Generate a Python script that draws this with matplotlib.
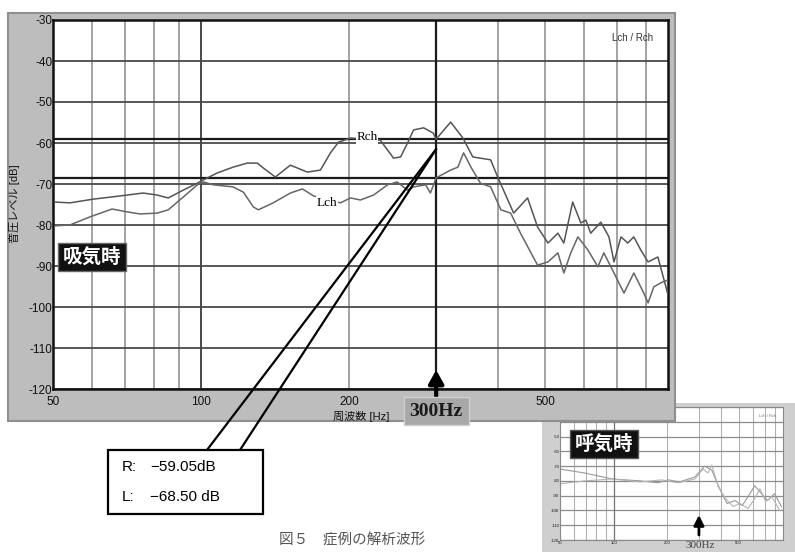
import matplotlib
matplotlib.use('Agg')
import matplotlib.pyplot as plt
from matplotlib.patches import Rectangle
from matplotlib.ticker import FixedLocator, LogLocator, NullFormatter

plt.rcParams['font.family'] = ['Liberation Sans', 'Noto Sans CJK JP', 'DejaVu Sans']

# inhalation spectrum (吸気時), right channel
r_freq = [50.5, 54.1, 60.3, 67.5, 76.2, 81.4, 85.7, 91.9, 98.2, 101, 107.8, 116, 124, 130,
          133.7, 141.4, 151.7, 164.3, 174.6, 183, 190, 201, 231, 245.8, 254, 262.4, 270,
          283, 296, 300, 321, 340, 356, 387, 400, 431, 460, 482, 506, 530, 545, 568, 590,
          604, 618, 648, 673, 689, 712, 735, 756, 781, 808, 846, 887]
r_db = [-74.4, -74.6, -73.7, -73.0, -72.2, -72.7, -73.4, -71.5, -69.8, -69.0, -67.3, -65.9,
        -64.9, -64.9, -66.1, -68.3, -65.4, -67.1, -66.6, -62.4, -59.8, -58.8, -59.3, -63.7,
        -63.4, -60.0, -56.8, -56.3, -57.6, -59.05, -54.9, -58.8, -63.4, -64.1, -68.3, -77.1,
        -73.4, -80.5, -84.4, -82.0, -84.4, -74.4, -79.5, -78.8, -82.0, -79.3, -82.9, -89.0,
        -82.9, -84.4, -82.9, -86.1, -89.0, -87.8, -97.0]

# inhalation spectrum, left channel
l_freq = [50.5, 54.1, 59.5, 65.9, 70.7, 75.1, 81.4, 85.7, 91.9, 98.2, 101, 105.8, 116, 121.8,
          127.6, 130.6, 140, 151.7, 160.5, 169, 191.7, 201, 210.5, 223.8, 239, 250, 262.4,
          270, 285.6, 292, 300, 321, 332, 341, 353, 369, 387, 406, 425, 445, 482, 506, 530,
          545, 563, 582, 610, 639, 657, 689, 722, 756, 792, 808, 830, 858, 887]
l_db = [-80.2, -80.0, -78.0, -76.1, -76.8, -77.3, -77.1, -76.3, -73.2, -70.2, -69.5, -70.2,
        -70.7, -72.0, -75.6, -76.3, -74.6, -72.2, -71.2, -72.9, -74.6, -73.4, -73.9, -72.7,
        -70.2, -69.5, -71.5, -70.7, -70.2, -72.2, -68.5, -66.6, -65.9, -62.4, -65.9, -69.8,
        -70.7, -76.3, -77.1, -82.0, -89.8, -89.0, -86.8, -91.7, -86.8, -82.9, -86.1, -90.2,
        -86.8, -91.7, -96.6, -91.7, -96.6, -99.0, -95.1, -94.1, -93.4]

# exhalation spectrum (呼気時)
ex_r_freq = [50, 69, 98, 141, 177, 202, 234, 285, 323, 354, 381, 404, 431, 478, 524, 565,
             616, 673, 727, 795, 869]
ex_r_db = [-72, -74.7, -78.7, -80, -81.3, -79.3, -80.7, -77.3, -70, -72.7, -82, -88.7,
           -95.3, -93.3, -96.7, -90.7, -83.3, -88.7, -93.3, -88.7, -97.3]
ex_l_freq = [50, 69, 98, 141, 185, 229, 285, 316, 337, 354, 385, 423, 465, 511, 565, 616,
             658, 710, 768, 850]
ex_l_db = [-82, -80, -78.7, -80.7, -79.3, -81.3, -78.7, -72, -74.7, -69.3, -84, -92,
           -97.3, -95.3, -98.7, -92, -85.3, -94, -90.7, -100]

cursor_hz = 300
cursor_r = -59.05
cursor_l = -68.50
y_ticks = list(range(-120, -29, 10))
x_ticks = [50, 100, 200, 500]
x_range = (50, 887)

W, H = 795, 552


def frac(x0, y0, x1, y1):
    # pixel box (top-left origin) -> figure fraction rect
    return [x0 / W, 1 - y1 / H, (x1 - x0) / W, (y1 - y0) / H]


def add_box(x0, y0, x1, y1, **kw):
    r = frac(x0, y0, x1, y1)
    fig.patches.append(Rectangle((r[0], r[1]), r[2], r[3], transform=fig.transFigure, **kw))


def setup_axes(ax, fs, hcol, vcol, lw):
    ax.set_xscale('log')
    ax.set_xlim(*x_range)
    ax.set_ylim(-120, -30)
    ax.xaxis.set_major_locator(FixedLocator(x_ticks))
    ax.xaxis.set_minor_locator(LogLocator(base=10, subs=range(2, 10)))
    ax.xaxis.set_minor_formatter(NullFormatter())
    ax.set_xticklabels([str(v) for v in x_ticks])
    ax.set_yticks(y_ticks)
    ax.set_yticklabels([str(v) for v in y_ticks])
    ax.tick_params(which='both', length=0, labelsize=fs, colors='#111111')
    ax.grid(True, axis='y', which='major', color=hcol, lw=lw)
    ax.grid(True, axis='x', which='both', color=vcol, lw=lw * 0.85)
    ax.set_axisbelow(True)


fig = plt.figure(figsize=(W / 100, H / 100), dpi=100)

# small exhalation panel, partly under the main one
add_box(542, 403, 795, 552, facecolor='#cfcfcf', edgecolor='none', zorder=-3)
ax2 = fig.add_axes(frac(560, 407, 783, 540))
ax2.set_zorder(-2)
setup_axes(ax2, 3, '#8c8c8c', '#b0b0b0', 0.9)
# top rows sit under the main panel
ax2.set_yticklabels([str(v) if v < -40 else '' for v in y_ticks])
ax2.tick_params(pad=0.5)
ax2.plot(ex_r_freq, ex_r_db, color='#9a9a9a', lw=0.8)
ax2.plot(ex_l_freq, ex_l_db, color='#b4b4b4', lw=0.8)
ax2.axvline(100, color='#777777', lw=0.9)
for s in ax2.spines.values():
    s.set_color('#888888')
ax2.text(0.97, 0.95, 'Lch / Rch', transform=ax2.transAxes, fontsize=3,
         ha='right', va='top', color='#777777')
ax2.annotate('', xy=(cursor_hz, H - 515), xycoords=('data', 'figure pixels'),
             xytext=(cursor_hz, H - 535), textcoords=('data', 'figure pixels'),
             arrowprops=dict(arrowstyle='-|>,head_width=0.3,head_length=0.6',
                             lw=2, color='black', shrinkA=0, shrinkB=0))
fig.text(700 / W, 1 - 545 / H, '300Hz', family='Liberation Serif', fontsize=8,
         color='#444444', ha='center', va='center', zorder=-1)
fig.text(604 / W, 1 - 444 / H, '呼気時', fontsize=14, fontweight='bold', color='white',
         ha='center', va='center', family=['Noto Sans CJK JP'],
         bbox=dict(boxstyle='square,pad=0.22', fc='#111111', ec='#555555'), zorder=-1)

# main inhalation panel
add_box(8, 13, 675, 421, facecolor='#bdbdbd', edgecolor='#8f8f8f', lw=1.5, zorder=0.5)
ax = fig.add_axes(frac(53, 20, 668, 389))
ax.set_zorder(1)
setup_axes(ax, 8.5, '#4a4a4a', '#8a8a8a', 1.3)
ax.tick_params(axis='y', pad=0.5)
ax.tick_params(axis='x', pad=5)
for s in ax.spines.values():
    s.set_color('#111111')
    s.set_linewidth(1.8)

ax.axvline(100, color='#444444', lw=1.3, zorder=1)
ax.axvline(cursor_hz, color='#1a1a1a', lw=1.6, zorder=2)
ax.axhline(cursor_r, color='#1a1a1a', lw=1.6, zorder=2)
ax.axhline(cursor_l, color='#1a1a1a', lw=1.6, zorder=2)

ax.plot(r_freq, r_db, color='#555555', lw=1.1, zorder=3)
ax.plot(l_freq, l_db, color='#666666', lw=1.1, zorder=3)

ax.text(217, -58.6, 'Rch', family='Liberation Serif', fontsize=9.5, ha='center',
        va='center', zorder=4, bbox=dict(boxstyle='square,pad=0.05', fc='white', ec='none'))
ax.text(180, -74.6, 'Lch', family='Liberation Serif', fontsize=9.5, ha='center',
        va='center', zorder=4, bbox=dict(boxstyle='square,pad=0.05', fc='white', ec='none'))
ax.text(0.975, 0.965, 'Lch / Rch', transform=ax.transAxes, fontsize=7, ha='right',
        va='top', color='#333333')

fig.text(15 / W, 1 - 204 / H, '音圧レベル [dB]', rotation=90, fontsize=8,
         ha='center', va='center', color='#111111')
fig.text(361 / W, 1 - 416 / H, '周波数 [Hz]', fontsize=8, ha='center', va='center',
         color='#111111')
fig.text(92 / W, 1 - 257 / H, '吸気時', fontsize=14, fontweight='bold', color='white',
         ha='center', va='center', family=['Noto Sans CJK JP'], zorder=5,
         bbox=dict(boxstyle='square,pad=0.22', fc='#111111', ec='#666666'))

# cursor marker below the axis
ax.annotate('', xy=(cursor_hz, H - 370), xycoords=('data', 'figure pixels'),
            xytext=(cursor_hz, H - 396), textcoords=('data', 'figure pixels'),
            arrowprops=dict(arrowstyle='-|>,head_width=0.45,head_length=0.8',
                            lw=3, color='black', shrinkA=0, shrinkB=0),
            annotation_clip=False)
ax.annotate('300Hz', xy=(cursor_hz, H - 411), xycoords=('data', 'figure pixels'),
            ha='center', va='center', family='Liberation Serif', fontsize=14,
            fontweight='bold', color='#1a1a1a', annotation_clip=False,
            bbox=dict(boxstyle='square,pad=0.3', fc='#a8a8a8', ec='#d0d0d0'))

# readout callout
for bx in (207, 240):
    ax.annotate('', xy=(cursor_hz, -61.5), xycoords='data',
                xytext=(bx, H - 450), textcoords='figure pixels',
                arrowprops=dict(arrowstyle='-', lw=1.6, color='black',
                                shrinkA=0, shrinkB=0),
                annotation_clip=False)
add_box(108, 450, 263, 514, facecolor='white', edgecolor='black', lw=1.6, zorder=2)
fig.text(122 / W, 1 - 467 / H, 'R:', fontsize=11, va='center', zorder=3)
fig.text(150 / W, 1 - 467 / H, f'\u2212{abs(cursor_r):.2f}dB', fontsize=11,
         va='center', zorder=3)
fig.text(122 / W, 1 - 497 / H, 'L:', fontsize=11, va='center', zorder=3)
fig.text(150 / W, 1 - 497 / H, f'\u2212{abs(cursor_l):.2f} dB', fontsize=11,
         va='center', zorder=3)

fig.text(352 / W, 1 - 540 / H, '図５　症例の解析波形', fontsize=10.5, ha='center',
         va='center', color='#555555', family=['Noto Sans CJK JP'])

fig.savefig('out.png', dpi=100)
